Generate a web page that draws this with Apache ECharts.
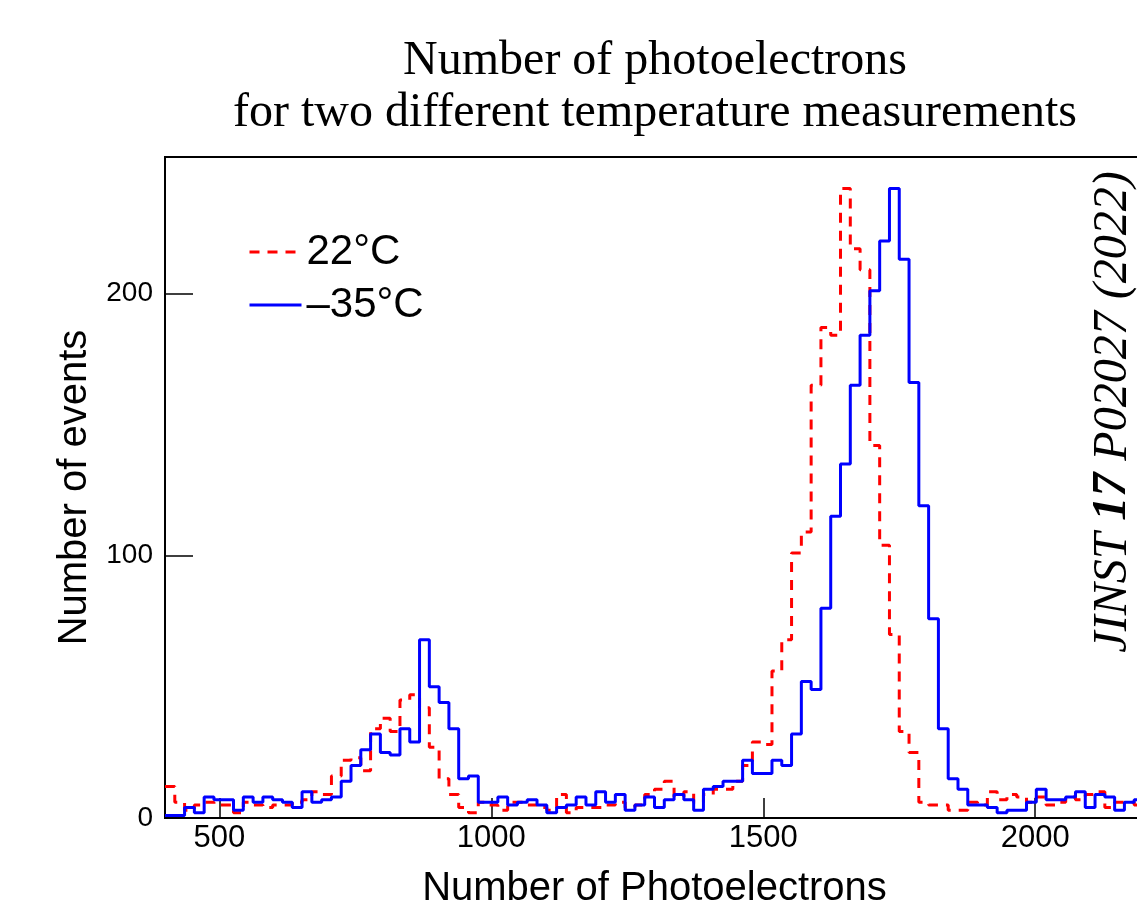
<!DOCTYPE html>
<html>
<head>
<meta charset="utf-8">
<title>Number of photoelectrons</title>
<script src="https://cdn.jsdelivr.net/npm/echarts@6/dist/echarts.min.js"></script>
<style>
  html, body { margin: 0; padding: 0; background: #fff; }
  #main { width: 1137px; height: 909px; }
</style>
</head>
<body>
<div id="main"></div>
<script>
// histogram binning: 100 bins of 18 photoelectrons from 400 to 2200
var binStart = 400;
var binWidth = 18;
var xTicks = [500, 1000, 1500, 2000];
var yTicks = [0, 100, 200];
var seriesNames = ['22°C', '–35°C'];

// counts per bin, 22°C (red dashed)
var counts22 = [
  12, 6, 3, 5, 6, 5, 5, 2, 6, 5,
  4, 5, 5, 6, 7, 10, 9, 16, 22, 23,
  18, 34, 38, 33, 45, 47, 42, 27, 15, 9,
  4, 2, 6, 5, 3, 6, 6, 5, 4, 3,
  9, 2, 4, 4, 4, 5, 6, 4, 5, 9,
  11, 14, 8, 10, 6, 9, 11, 11, 14, 20,
  29, 28, 56, 68, 101, 109, 165, 187, 184, 240,
  217, 209, 142, 104, 70, 33, 25, 6, 5, 5,
  3, 3, 6, 5, 10, 7, 9, 8, 6, 8,
  5, 6, 8, 7, 9, 10, 4, 6, 6, 5
];

// counts per bin, -35°C (blue solid)
var countsM35 = [
  1, 1, 4, 2, 8, 7, 7, 3, 8, 6,
  8, 7, 6, 4, 10, 6, 7, 8, 14, 20,
  26, 32, 25, 24, 34, 29, 68, 50, 44, 34,
  15, 16, 6, 6, 8, 5, 6, 7, 5, 2,
  4, 5, 8, 5, 10, 6, 9, 3, 5, 8,
  4, 7, 9, 7, 3, 11, 12, 14, 14, 22,
  17, 17, 22, 20, 32, 52, 49, 80, 115, 135,
  165, 184, 201, 220, 240, 213, 166, 119, 76, 34,
  15, 11, 5, 5, 4, 2, 3, 3, 6, 11,
  7, 7, 8, 10, 4, 9, 8, 3, 6, 7
];

// turn bin counts into [edge, count] points for a step line
function toSteps(counts) {
  var pts = counts.map(function (v, i) {
    return [binStart + i * binWidth, v];
  });
  pts.push([binStart + counts.length * binWidth, counts[counts.length - 1]]);
  return pts;
}

var myChart = echarts.init(document.getElementById('main'));

var option = {
  backgroundColor: '#fff',
  animation: false,
  title: {
    text: 'Number of photoelectrons\nfor two different temperature measurements',
    left: 650,
    top: 30,
    textAlign: 'center',
    textStyle: {
      fontFamily: 'Liberation Serif',
      fontWeight: 'normal',
      fontSize: 48,
      lineHeight: 52,
      color: '#000'
    }
  },
  legend: {
    orient: 'vertical',
    left: 243,
    top: 226,
    itemWidth: 52,
    itemHeight: 3,
    itemGap: 11,
    itemStyle: { opacity: 0 },
    lineStyle: { width: 3 },
    textStyle: {
      fontFamily: 'Liberation Sans',
      fontSize: 42,
      lineHeight: 41,
      color: '#000'
    },
    data: seriesNames
  },
  grid: {
    left: 165,
    top: 157,
    width: 979,
    bottom: 91,
    outerBoundsMode: 'none',
    show: true,
    borderColor: '#000',
    borderWidth: 2,
    backgroundColor: 'transparent'
  },
  xAxis: {
    type: 'value',
    min: 400,
    max: 2200,
    name: 'Number of Photoelectrons',
    nameLocation: 'middle',
    nameGap: 51,
    nameTextStyle: { fontFamily: 'Liberation Sans', fontSize: 40, color: '#000' },
    axisLine: { lineStyle: { color: '#000', width: 2 } },
    axisTick: { inside: true, length: 20, customValues: xTicks, lineStyle: { color: '#000', width: 1.5 } },
    axisLabel: {
      customValues: xTicks,
      formatter: function (v) { return String(v); },
      fontFamily: 'Liberation Sans', fontSize: 31, color: '#000', margin: 5
    },
    splitLine: { show: false }
  },
  yAxis: {
    type: 'value',
    min: 0,
    max: 252,
    name: 'Number of events',
    nameLocation: 'middle',
    nameGap: 67,
    nameTextStyle: { fontFamily: 'Liberation Sans', fontSize: 40, color: '#000' },
    axisLine: { show: true, lineStyle: { color: '#000', width: 2 } },
    axisTick: { show: true, inside: true, length: 28, customValues: yTicks, lineStyle: { color: '#000', width: 1.5 } },
    axisLabel: {
      customValues: yTicks,
      formatter: function (v) { return String(v); },
      fontFamily: 'Liberation Sans', fontSize: 28, color: '#000', margin: 12
    },
    splitLine: { show: false }
  },
  graphic: [{
    type: 'text',
    x: 1113,
    y: 412,
    rotation: Math.PI / 2,
    style: {
      text: '{a|JINST }{b|17}{a| P02027 (2022)}',
      align: 'center',
      verticalAlign: 'middle',
      textAlign: 'center',
      textVerticalAlign: 'middle',
      rich: {
        a: { fontFamily: 'Liberation Serif', fontStyle: 'italic', fontSize: 48, fill: '#000' },
        b: { fontFamily: 'Liberation Serif', fontStyle: 'italic', fontWeight: 'bold', fontSize: 48, fill: '#000' }
      }
    }
  }],
  series: [
    {
      name: seriesNames[0],
      type: 'line',
      step: 'end',
      symbol: 'none',
      data: toSteps(counts22),
      lineStyle: { color: '#ff0000', width: 3, type: [10, 8] },
      itemStyle: { color: '#ff0000' },
      z: 2
    },
    {
      name: seriesNames[1],
      type: 'line',
      step: 'end',
      symbol: 'none',
      data: toSteps(countsM35),
      lineStyle: { color: '#0000ff', width: 3 },
      itemStyle: { color: '#0000ff' },
      z: 3
    }
  ]
};

myChart.setOption(option);
</script>
</body>
</html>
